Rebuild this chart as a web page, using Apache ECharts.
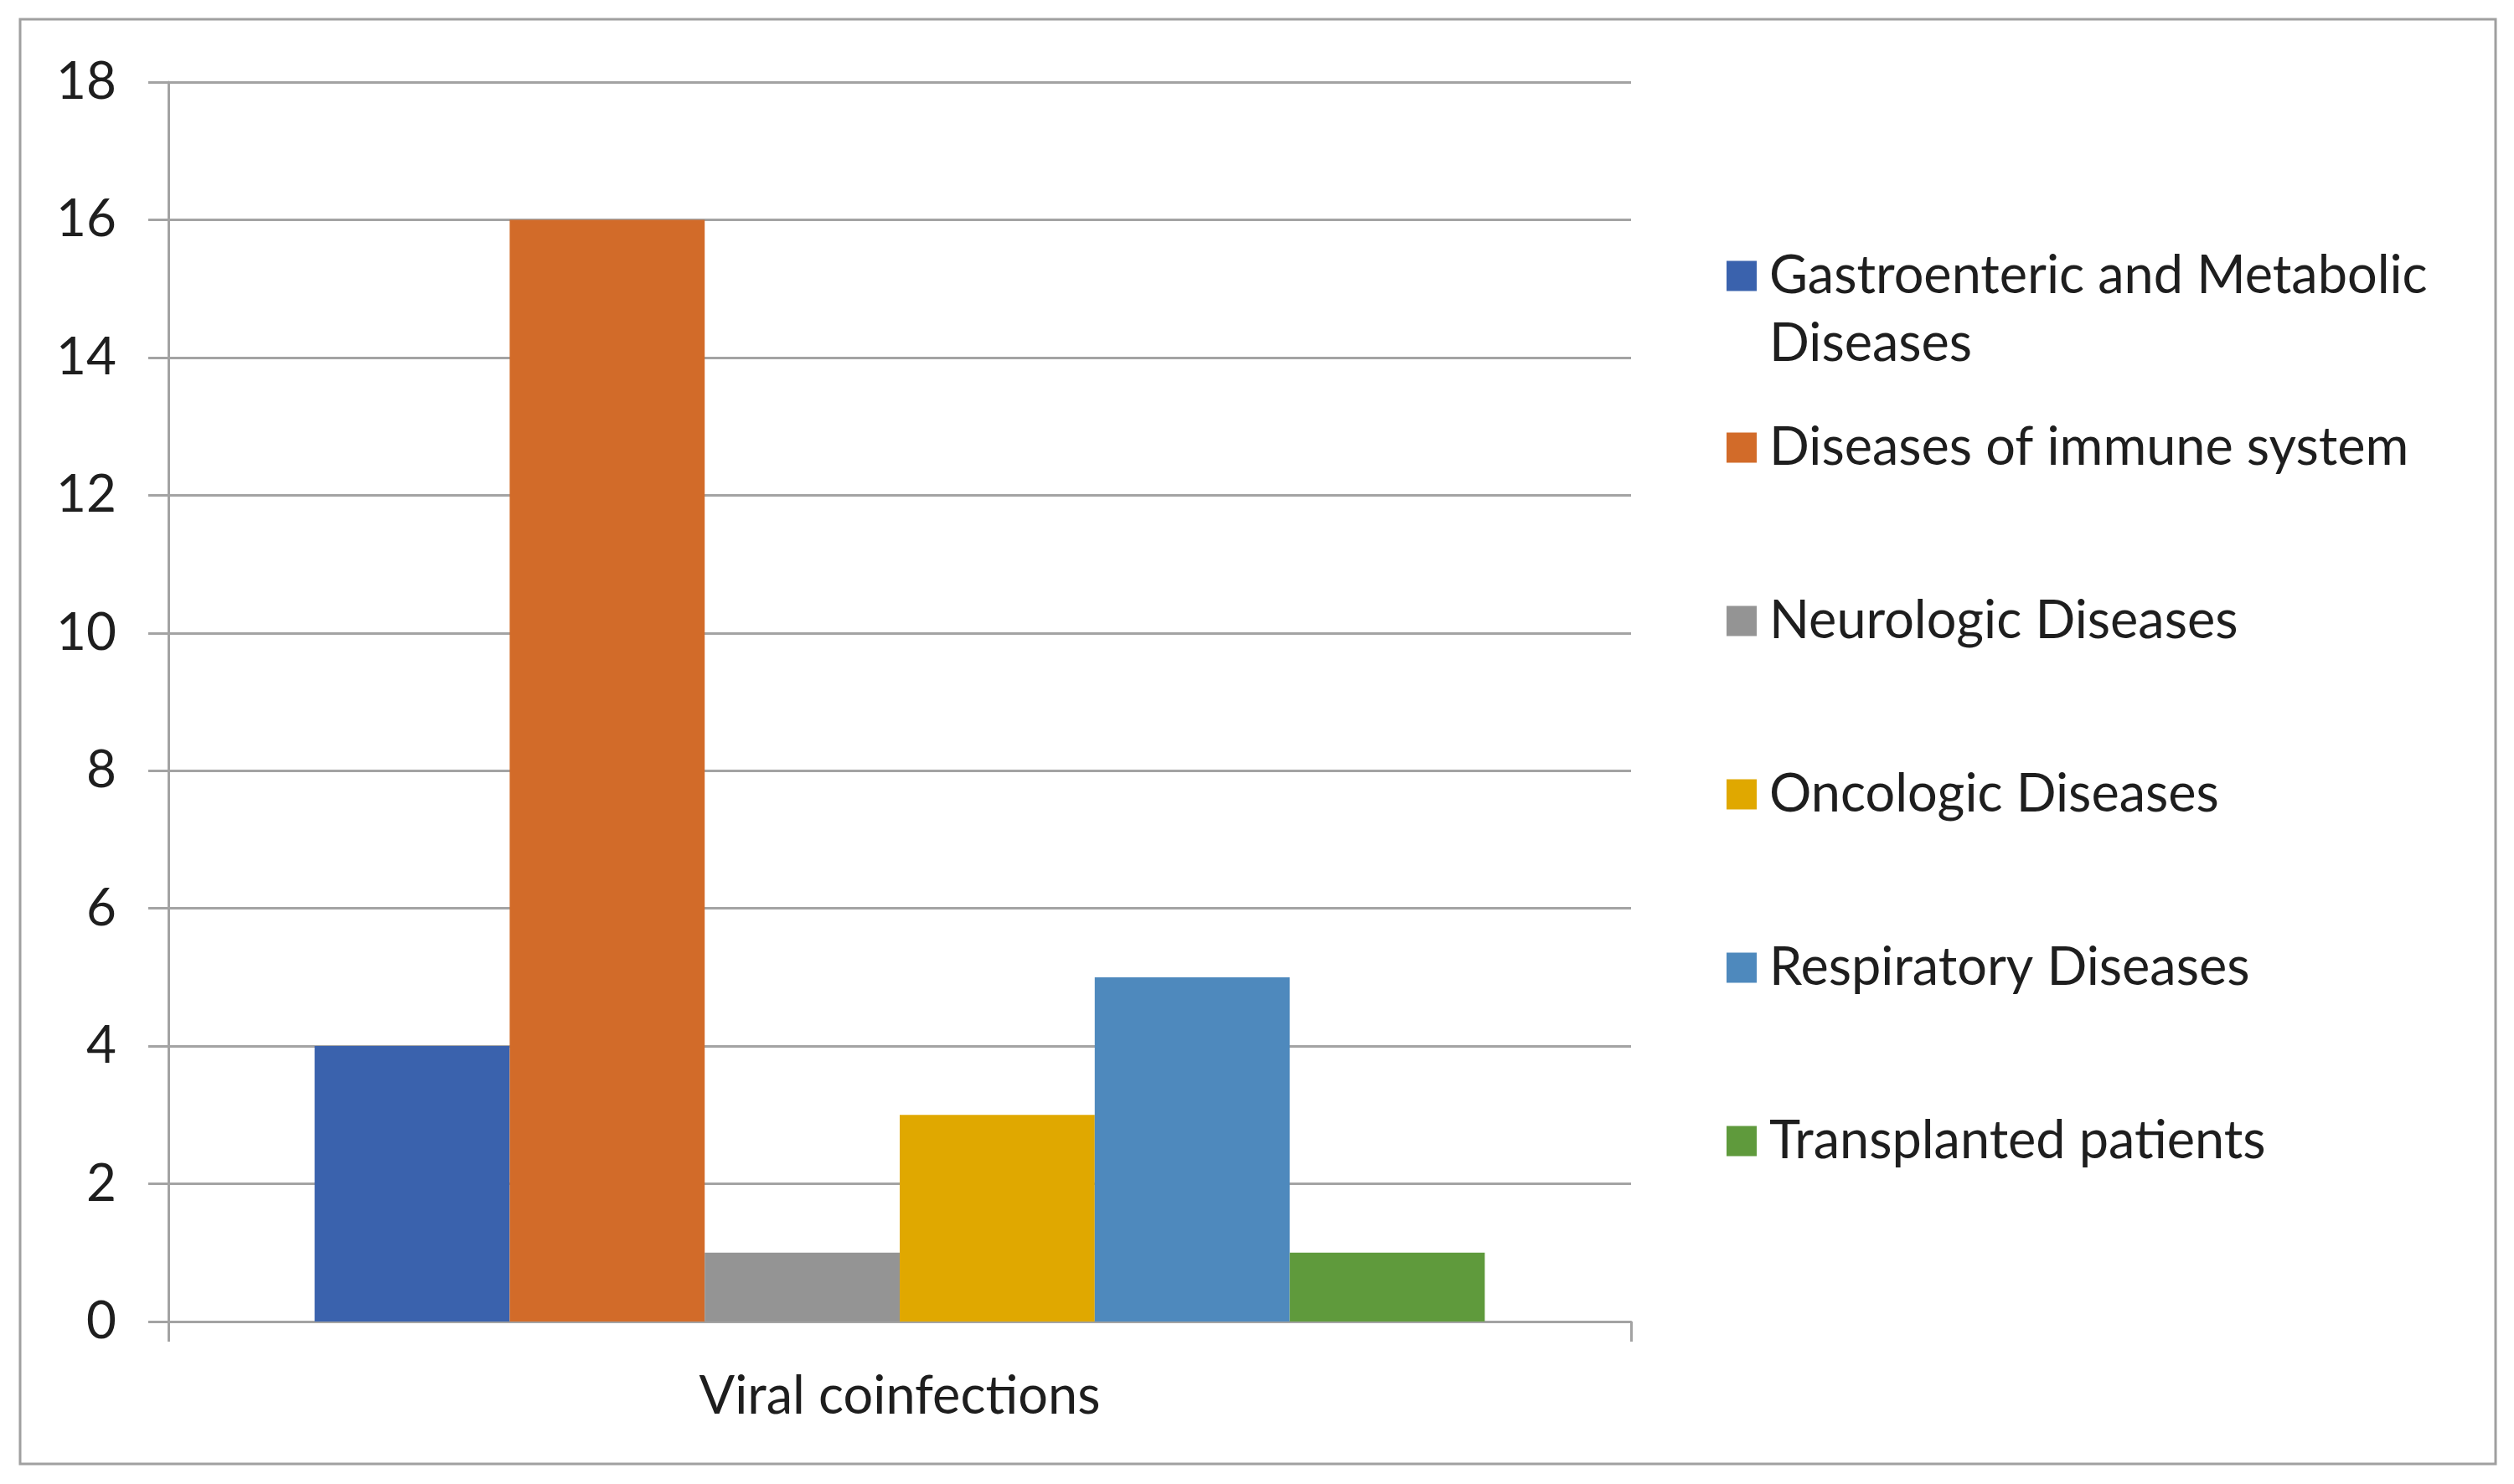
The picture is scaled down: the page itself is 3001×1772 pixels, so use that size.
<!DOCTYPE html>
<html>
<head>
<meta charset="utf-8">
<script src="https://cdn.jsdelivr.net/npm/echarts@6/dist/echarts.min.js"></script>
<style>
  html, body { margin: 0; padding: 0; background: #fff; }
  #chart { width: 3001px; height: 1772px; }
</style>
</head>
<body>
<div id="chart"></div>
<script>
// chart data
var categories = ['Viral coinfections'];
var seriesNames = [
    'Gastroenteric and Metabolic Diseases',
    'Diseases of immune system',
    'Neurologic Diseases',
    'Oncologic Diseases',
    'Respiratory Diseases',
    'Transplanted patients'
];
var seriesValues = [4, 16, 1, 3, 5, 1];
var yMin = 0, yMax = 18, yStep = 2;

var seriesColors = ['#3a62ad', '#d26b29', '#949494', '#e0a800', '#4e89bd', '#5f9a3c'];
var gridColor = '#a3a3a3';
var textColor = '#1e1e1e';
var fontName = 'Lato';

var chart = echarts.init(document.getElementById('chart'));

var series = seriesNames.map(function(name, i) {
    return {
        name: name,
        type: 'bar',
        data: [seriesValues[i]],
        barGap: '0%',
        barCategoryGap: '20%',
        itemStyle: { color: seriesColors[i] }
    };
});

var option = {
    backgroundColor: '#fff',
    animation: false,
    textStyle: { fontFamily: fontName },
    grid: { left: 201, right: 1054, top: 98, bottom: 194 },
    legend: [{
        // first entry wraps onto two lines; a blank leading line keeps the
        // swatch level with the first line of text
        orient: 'vertical',
        left: 2056,
        top: 203,
        icon: 'rect',
        itemWidth: 36,
        itemHeight: 36,
        data: [seriesNames[0]],
        formatter: function(n) { return '\n' + n.replace(' Diseases', '\nDiseases'); },
        textStyle: { fontSize: 63, lineHeight: 81, color: textColor, fontFamily: fontName, padding: [0, 0, 0, 10] }
    }, {
        orient: 'vertical',
        left: 2056,
        top: 498,
        icon: 'rect',
        itemWidth: 36,
        itemHeight: 36,
        itemGap: 144,
        data: seriesNames.slice(1),
        textStyle: { fontSize: 63, lineHeight: 60, color: textColor, fontFamily: fontName, padding: [0, 0, 0, 10] }
    }],
    xAxis: {
        type: 'category',
        data: categories,
        axisLine: { lineStyle: { color: gridColor, width: 3 } },
        axisTick: { show: true, length: 24, lineStyle: { color: gridColor, width: 3 } },
        axisLabel: { fontSize: 63, color: textColor, margin: 58, fontFamily: fontName }
    },
    yAxis: {
        type: 'value',
        min: yMin,
        max: yMax,
        interval: yStep,
        axisLine: { show: true, lineStyle: { color: gridColor, width: 3 } },
        axisTick: { show: true, length: 24, lineStyle: { color: gridColor, width: 3 } },
        axisLabel: { fontSize: 62, color: textColor, margin: 62, fontFamily: fontName },
        splitLine: { lineStyle: { color: gridColor, width: 3 } }
    },
    graphic: [{
        type: 'rect',
        shape: { x: 24, y: 23, width: 2955, height: 1725 },
        style: { fill: 'none', stroke: '#a0a0a0', lineWidth: 3 },
        silent: true
    }],
    series: series
};

chart.setOption(option);
</script>
</body>
</html>
